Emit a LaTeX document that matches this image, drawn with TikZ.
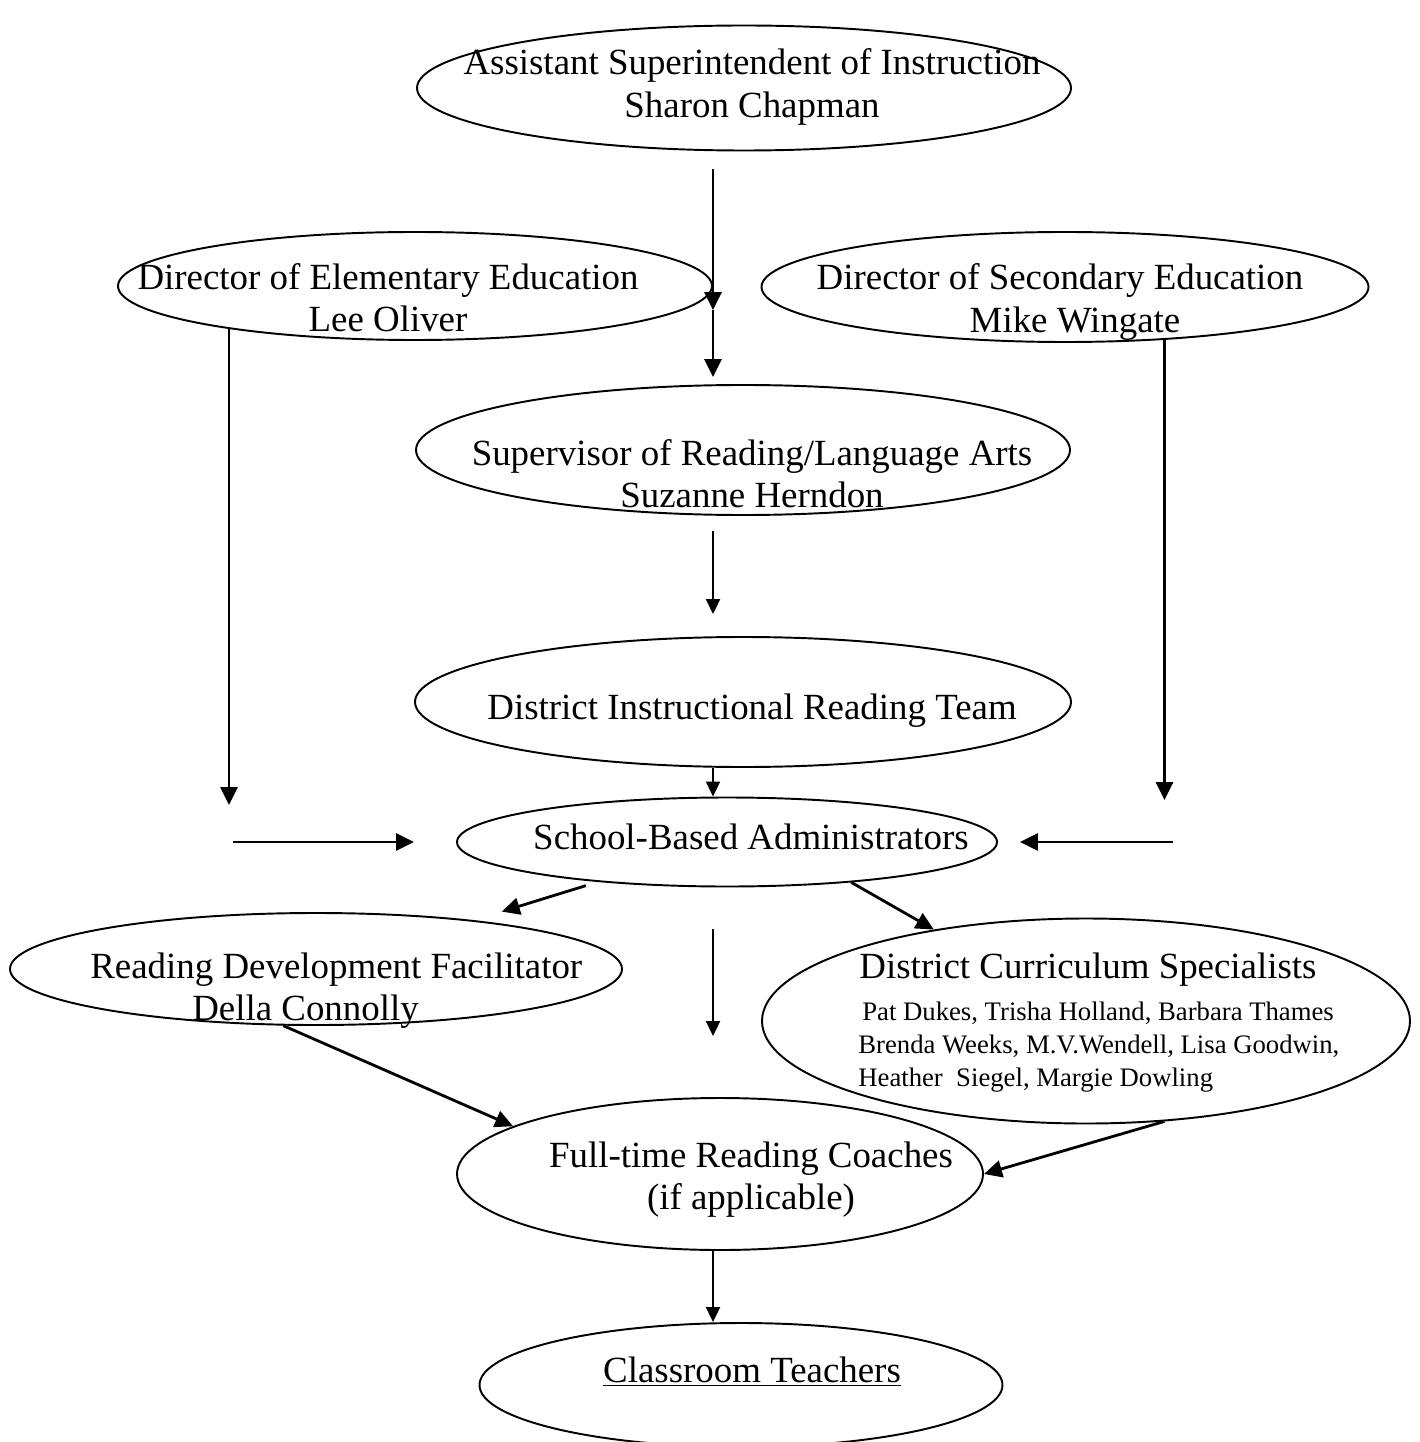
\documentclass[tikz,border=0pt]{standalone}
\usepackage{fontspec}
\setmainfont{Liberation Serif}
\usetikzlibrary{arrows.meta,shapes.geometric}

\begin{document}
\begin{tikzpicture}[
  x=0.02cm, y=-0.02cm,
  font=\fontsize{21}{24}\selectfont,
  oval/.style 2 args={draw, ellipse, line width=1.1pt, inner sep=0pt, minimum width=#1*0.02cm, minimum height=#2*0.02cm},
  lbl/.style={inner sep=0pt, align=center},
  names/.style={inner sep=0pt, align=left, font=\fontsize{15.2}{18.7}\selectfont},
  arrow/.style={-{Triangle[length=3.6mm, width=3.4mm]}, line width=1.6pt},
  thinarrow/.style={-{Triangle[length=3mm, width=2.8mm]}, line width=1.2pt}
]
\useasboundingbox (0,0) rectangle (1419,1442);

% ovals
\node[oval={654}{125}] (asst) at (744,88) {};
\node[oval={594}{108}] (elem) at (415,286) {};
\node[oval={607}{110}] (sec) at (1065,287) {};
\node[oval={654}{130}] (sup) at (743,450) {};
\node[oval={656}{130}] (team) at (743,702) {};
\node[oval={540}{89}] (admin) at (727,842) {};
\node[oval={612}{112}] (rdf) at (316,969) {};
\node[oval={648}{205}] (dcs) at (1086,1021) {};
\node[oval={526}{152}] (coach) at (720,1174) {};
\node[oval={523}{124}] (teach) at (741,1385) {};

% texts
\node[lbl] (asstT) at (752,87) {Assistant Superintendent of Instruction\\Sharon Chapman};
\node[lbl] (elemT) at (388,298) {Director of Elementary Education\\Lee Oliver};
\node[lbl] (secT) at (1060,302) {Director of Secondary Education\\\hspace*{0.6cm}Mike Wingate};
\node[lbl] (supT) at (752,474) {Supervisor of Reading/Language Arts\\Suzanne Herndon};
\node[lbl] (teamT) at (752,711) {District Instructional Reading Team};
\node[lbl] (adminT) at (751,837) {School-Based Administrators};
\node[lbl, align=left, anchor=west] (rdfT) at (90,991) {Reading Development Facilitator\\\hspace*{2.04cm}Della Connolly};
\node[lbl] (dcsT) at (1088,970) {District Curriculum Specialists};
\node[names, anchor=west] (dcsN) at (858,1047) {\hspace*{0.08cm}Pat Dukes, Trisha Holland, Barbara Thames\\Brenda Weeks, M.V.Wendell, Lisa Goodwin,\\Heather~ Siegel, Margie Dowling};
\node[lbl] (coachT) at (751,1180) {Full-time Reading Coaches\\(if applicable)};
\node[lbl] (teachT) at (752,1372) {\underline{Classroom Teachers}};

% free ends
\coordinate (axis) at (713,0);
\coordinate (mid) at (713,310);
\coordinate (elemEnd) at (233,805);
\coordinate (secEnd) at (1162,800);
\coordinate (lft) at (233,842);
\coordinate (rgt) at (1173,842);

% connectors
\draw[arrow, shorten <=0.35cm] (asst.south -| axis) -- (mid);
\draw[arrow, shorten >=0.14cm] (mid) -- (sup.north -| axis);
\draw[arrow] (elem.193) -- (elem.193 |- elemEnd);
\draw[arrow] (sec.332) -- (sec.332 |- secEnd);
\draw[thinarrow, shorten <=0.3cm, shorten >=0.44cm] (sup.south -| axis) -- (team.north -| axis);
\foreach \a/\b in {team/admin, coach/teach} {\draw[thinarrow] (\a.south -| axis) -- (\b.north -| axis);}
\draw[arrow, shorten >=0.84cm] (lft) -- (admin.west);
\draw[arrow, shorten >=0.44cm] (rgt) -- (admin.east);
\draw[arrow, shorten <=0.25cm, shorten >=0.58cm] (admin) -- (rdf);
\draw[arrow] (admin.342) -- (dcs.149);
\draw[thinarrow, shorten <=0.83cm, shorten >=1.22cm] (admin.south -| axis) -- (coach.north -| axis);
\draw[arrow] (rdf.240) -- (coach.167);
\draw[arrow] (dcs.308) -- (coach.east);
\end{tikzpicture}
\end{document}
